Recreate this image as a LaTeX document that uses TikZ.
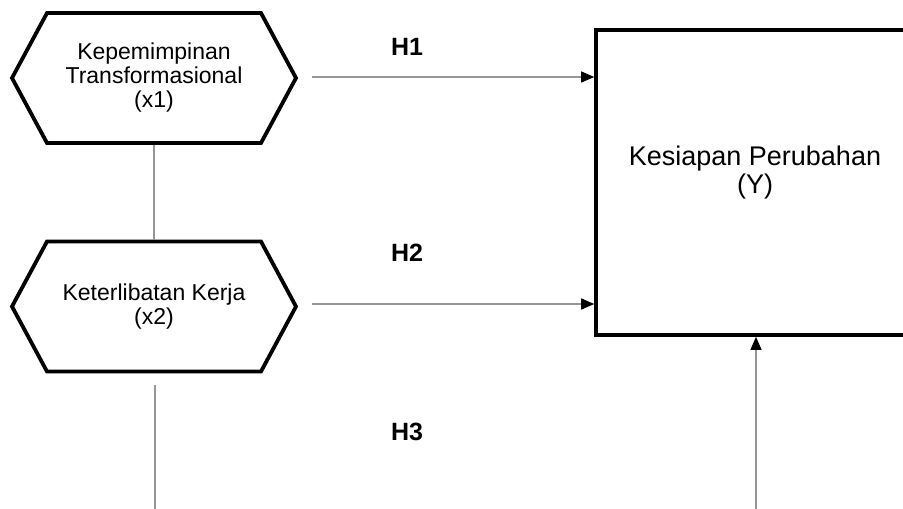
\documentclass[tikz,border=0pt]{standalone}
\usepackage{fontspec}
\setmainfont{Liberation Sans}
\usetikzlibrary{arrows.meta,shapes.symbols}
\tikzset{
  hexbox/.style={signal, signal to=west and east, signal pointer angle=123.4,
    draw=black, line width=3.8pt, minimum width=284pt, minimum height=130pt,
    inner sep=0pt, align=center, font=\fontsize{23}{24}\selectfont},
  mainbox/.style={draw=black, line width=3.6pt, minimum width=330pt, minimum height=305pt, inner sep=0pt},
  conn/.style={draw={rgb,255:red,150;green,150;blue,150}, line width=1.1pt},
  arr/.style={conn, -{Triangle[length=13pt,width=11pt,color=black]}},
  hlabel/.style={font=\bfseries\fontsize{25}{27}\selectfont},
  ylab/.style={align=center, font=\fontsize{27}{28}\selectfont}
}
\begin{document}
\begin{tikzpicture}[x=1pt,y=-1pt]
\useasboundingbox (0,0) rectangle (903,509);
\clip (0,0) rectangle (903,509);
\fill[white] (0,0) rectangle (903,509);
\node[hexbox] (x1) at (154,78) {Kepemimpinan\\Transformasional\\(x1)};
\node[hexbox] (x2) at (154,306.5) {Keterlibatan Kerja\\(x2)};
\node[mainbox] (Y) at (761,182.5) {};
\node[ylab] (ylabel) at (755,173) {Kesiapan Perubahan\\(Y)};
\node[hlabel] (h1) at (407,47) {H1};
\node[hlabel] (h2) at (407,253) {H2};
\node[hlabel] (h3) at (407,432) {H3};
\coordinate (a1) at (312,77);
\coordinate (a2) at (312,304);
\coordinate (b1) at (155,385);
\coordinate (b2) at (155,515);
\coordinate (c1) at (756,515);
\draw[conn] (x1.south) -- (x2.north);
\draw[arr] (a1) -- (a1 -| Y.west);
\draw[arr] (a2) -- (a2 -| Y.west);
\draw[conn] (b1) -- (b2);
\draw[arr] (c1) -- (c1 |- Y.south);
\end{tikzpicture}
\end{document}
